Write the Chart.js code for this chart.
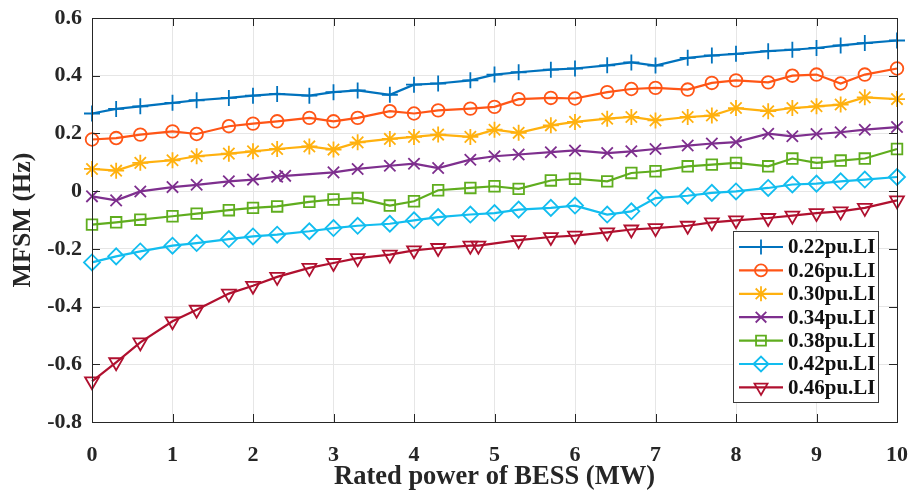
<!DOCTYPE html>
<html>
<head>
<meta charset="utf-8">
<script src="https://cdn.jsdelivr.net/npm/chart.js@4.4.0/dist/chart.umd.min.js"></script>
<style>
body{margin:0;background:#fff;}
#wrap{width:916px;height:495px;}
</style>
</head>
<body>
<div id="wrap"><canvas id="mfsm" width="916" height="495"></canvas></div>
<script>
// x positions (MW)
const xBase = [0,0.3,0.6,1,1.3,1.7,2,2.3,2.7,3,3.3,3.7,4,4.3,4.7,5,5.3,5.7,6,6.4,6.7,7,7.4,7.7,8,8.4,8.7,9,9.3,9.6,10];
const xLI34 = [0,0.3,0.6,1,1.3,1.7,2,2.3,2.4,3,3.3,3.7,4,4.3,4.7,5,5.3,5.7,6,6.4,6.7,7,7.4,7.7,8,8.4,8.7,9,9.3,9.6,10];
const xLI46 = [0,0.3,0.6,1,1.3,1.7,2,2.3,2.7,3,3.3,3.7,4,4.3,4.7,4.8,5.3,5.7,6,6.4,6.7,7,7.4,7.7,8,8.4,8.7,9,9.3,9.6,10];

// MFSM (Hz) for each load level
const li22 = [0.269,0.285,0.294,0.306,0.315,0.323,0.331,0.337,0.331,0.343,0.349,0.334,0.369,0.373,0.384,0.404,0.412,0.421,0.425,0.436,0.446,0.435,0.462,0.470,0.476,0.485,0.490,0.496,0.505,0.513,0.522];
const li26 = [0.179,0.184,0.196,0.207,0.198,0.225,0.234,0.242,0.254,0.242,0.254,0.277,0.269,0.280,0.286,0.292,0.319,0.323,0.321,0.343,0.354,0.358,0.352,0.375,0.384,0.377,0.400,0.404,0.373,0.404,0.425];
const li30 = [0.077,0.071,0.098,0.107,0.121,0.130,0.138,0.146,0.155,0.144,0.169,0.181,0.188,0.196,0.188,0.213,0.202,0.228,0.240,0.251,0.257,0.245,0.257,0.262,0.288,0.277,0.288,0.294,0.300,0.325,0.319];
const li34 = [-0.018,-0.032,-0.001,0.014,0.022,0.034,0.040,0.050,0.053,0.065,0.077,0.088,0.095,0.080,0.109,0.121,0.127,0.135,0.141,0.132,0.138,0.146,0.158,0.165,0.170,0.199,0.190,0.198,0.204,0.213,0.222];
const li38 = [-0.116,-0.108,-0.099,-0.087,-0.078,-0.066,-0.058,-0.053,-0.037,-0.029,-0.024,-0.050,-0.035,0.003,0.011,0.017,0.008,0.037,0.043,0.034,0.063,0.069,0.086,0.092,0.098,0.086,0.113,0.098,0.106,0.113,0.146];
const li42 = [-0.247,-0.226,-0.209,-0.189,-0.180,-0.166,-0.157,-0.151,-0.139,-0.128,-0.120,-0.113,-0.101,-0.090,-0.081,-0.076,-0.064,-0.058,-0.050,-0.081,-0.070,-0.024,-0.016,-0.006,-0.001,0.011,0.023,0.026,0.034,0.040,0.049];
const li46 = [-0.659,-0.593,-0.524,-0.451,-0.411,-0.355,-0.328,-0.297,-0.266,-0.249,-0.232,-0.220,-0.205,-0.197,-0.189,-0.189,-0.170,-0.159,-0.154,-0.143,-0.133,-0.128,-0.120,-0.108,-0.101,-0.093,-0.085,-0.076,-0.070,-0.058,-0.032];

const names = ['0.22pu.LI','0.26pu.LI','0.30pu.LI','0.34pu.LI','0.38pu.LI','0.42pu.LI','0.46pu.LI'];
const colors = ['#0072BD','#FF5516','#FFB10F','#7E2F8E','#5FAD1E','#12BDEF','#B0102F'];
const markers = ['cross','circle','star','crossRot','rect','rectRot','triangle'];

const serif = "'Liberation Serif', 'Times New Roman', serif";
const ink = '#262626';

function pts(xs, ys){
	return xs.map(function(x, i){ return {x: x, y: ys[i]}; });
}

const allX = [xBase, xBase, xBase, xLI34, xBase, xBase, xLI46];
const allY = [li22, li26, li30, li34, li38, li42, li46];

let datasets = [];
for(let i=0; i<names.length; i++){
	datasets.push({
		label: names[i],
		data: pts(allX[i], allY[i]),
		borderColor: colors[i],
		backgroundColor: colors[i],
		pointBackgroundColor: 'rgba(255,255,255,0)',
		pointBorderColor: colors[i],
		pointStyle: markers[i],
		pointRotation: markers[i] == 'triangle' ? 180 : 0,
		pointRadius: markers[i] == 'rect' ? 7.5 : (markers[i] == 'circle' ? 6.3 : 8),
		pointBorderWidth: 1.8,
		borderWidth: 2.2,
		tension: 0,
		clip: false
	});
}

// frame, inward ticks and the legend box in the lower right
const boxPlugin = {
	id: 'boxPlugin',
	afterDraw: function(chart){
		const ctx = chart.ctx;
		const a = chart.chartArea;
		const sx = chart.scales.x;
		const sy = chart.scales.y;
		ctx.save();
		ctx.strokeStyle = ink;
		ctx.lineWidth = 1;
		ctx.strokeRect(Math.round(a.left)+0.5, Math.round(a.top)+0.5, Math.round(a.right-a.left), Math.round(a.bottom-a.top));
		ctx.beginPath();
		sx.ticks.forEach(function(t){
			const px = Math.round(sx.getPixelForValue(t.value))+0.5;
			ctx.moveTo(px, a.bottom); ctx.lineTo(px, a.bottom-8);
			ctx.moveTo(px, a.top); ctx.lineTo(px, a.top+8);
		});
		sy.ticks.forEach(function(t){
			const py = Math.round(sy.getPixelForValue(t.value))+0.5;
			ctx.moveTo(a.left, py); ctx.lineTo(a.left+8, py);
			ctx.moveTo(a.right, py); ctx.lineTo(a.right-8, py);
		});
		ctx.stroke();

		// legend
		const lx = 733, ly = 231, lw = 145, lh = 171;
		ctx.fillStyle = '#fff';
		ctx.fillRect(lx, ly, lw, lh);
		ctx.strokeStyle = '#3a3a3a';
		ctx.strokeRect(lx+0.5, ly+0.5, lw, lh);
		ctx.font = 'bold 21px ' + serif;
		ctx.textBaseline = 'middle';
		ctx.textAlign = 'left';
		for(let i=0; i<names.length; i++){
			const cy = 247 + i*23.4;
			ctx.strokeStyle = colors[i];
			ctx.lineWidth = 2.2;
			ctx.beginPath();
			ctx.moveTo(739, cy); ctx.lineTo(783, cy);
			ctx.stroke();
			ctx.lineWidth = 1.8;
			ctx.fillStyle = 'rgba(255,255,255,0)';
			Chart.helpers.drawPoint(ctx, {
				pointStyle: markers[i],
				rotation: markers[i] == 'triangle' ? 180 : 0,
				radius: markers[i] == 'rect' ? 7 : (markers[i] == 'circle' ? 6 : 7.5),
				borderWidth: 1.8
			}, 761, cy);
			ctx.fillStyle = '#111';
			ctx.fillText(names[i], 788, cy+1);
		}
		ctx.restore();
	}
};

const ctx1 = document.getElementById('mfsm');

const lineChart = new Chart(ctx1, {
	type: 'line',
	data: { datasets: datasets },
	options: {
		responsive: false,
		animation: false,
		layout: { padding: { top: 18, right: 19, left: 0, bottom: 0 } },
		plugins: {
			legend: { display: false },
			tooltip: { enabled: false }
		},
		scales: {
			x: {
				type: 'linear',
				min: 0,
				max: 10,
				ticks: {
					stepSize: 1,
					color: ink,
					padding: 20,
					maxRotation: 0,
					font: { family: serif, size: 22, weight: 'bold' }
				},
				grid: { color: '#e6e6e6', lineWidth: 1, drawTicks: false },
				border: { display: false },
				title: {
					display: true,
					text: 'Rated power of BESS (MW)',
					color: ink,
					font: { family: serif, size: 26.5, weight: 'bold' },
					padding: { top: 0, bottom: 2 }
				},
				afterFit: function(s){
					s.height = 73;
					s.paddingLeft = 0;
					s.paddingRight = 0;
				}
			},
			y: {
				type: 'linear',
				min: -0.8,
				max: 0.6,
				ticks: {
					stepSize: 0.2,
					color: ink,
					padding: 10,
					font: { family: serif, size: 22, weight: 'bold' },
					callback: function(v){
						const r = Math.round(v*10)/10;
						return r == 0 ? '0' : String(r);
					}
				},
				grid: { color: '#e6e6e6', lineWidth: 1, drawTicks: false },
				border: { display: false },
				title: {
					display: true,
					text: 'MFSM (Hz)',
					color: ink,
					font: { family: serif, size: 26, weight: 'bold' },
					padding: { top: 8, bottom: 0 }
				},
				afterFit: function(s){
					s.width = 92;
					s.paddingTop = 0;
					s.paddingBottom = 0;
				}
			}
		}
	},
	plugins: [boxPlugin]
});
</script>
</body>
</html>
